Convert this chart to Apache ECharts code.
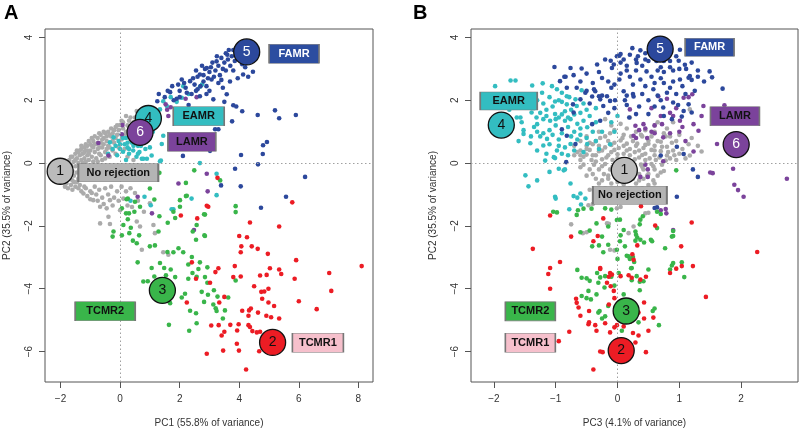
<!DOCTYPE html>
<html><head><meta charset="utf-8">
<script src="https://cdn.jsdelivr.net/npm/echarts@6/dist/echarts.min.js"></script>
<style>html,body{margin:0;padding:0;background:#fff}#c{width:800px;height:433px}</style>
</head><body><div id="c"></div>
<script>
// ---------- DATA (panel A: PC1 vs PC2) ----------
const noRejA = [[-1.85,-0.1],[-1.8,0.0],[-1.75,-0.2],[-1.7,0.1],[-1.65,-0.05],[-1.6,0.2],[-1.55,0.05],[-1.5,-0.1],[-1.5,0.3],[-1.45,0.15],[-1.4,0.0],[-1.4,0.35],[-1.35,0.25],[-1.3,0.1],[-1.3,0.45],[-1.25,0.3],[-1.2,0.5],[-1.2,0.15],[-1.15,0.4],[-1.1,0.55],[-1.1,0.25],[-1.05,0.1],[-1.0,0.6],[-1.0,0.4],[-0.95,0.2],[-0.9,0.7],[-0.9,0.5],[-0.85,0.35],[-0.8,0.6],[-0.8,0.15],[-0.75,0.8],[-0.75,0.45],[-0.7,0.3],[-0.65,0.9],[-0.65,0.65],[-0.6,0.5],[-0.6,0.1],[-0.55,0.8],[-0.5,0.95],[-0.5,0.35],[-0.45,0.7],[-0.4,0.55],[-0.4,1.0],[-0.35,0.2],[-0.3,0.85],[-0.3,1.1],[-0.25,0.4],[-0.2,0.65],[-0.2,1.05],[-0.15,0.3],[-0.1,0.9],[-0.1,1.2],[-0.05,0.5],[0.0,1.21],[0.05,0.75],[0.1,1.3],[0.15,0.45],[0.2,1.0],[0.25,0.2],[0.3,1.35],[0.35,0.7],[0.4,1.2],[0.56,1.66],[0.45,0.1],[0.5,1.45],
[-2.0,-0.45],[-1.95,-0.3],[-1.9,-0.55],[-1.85,-0.4],[-1.8,-0.65],[-1.75,-0.5],[-1.7,-0.35],[-1.65,-0.7],[-1.6,-0.55],[-1.55,-0.4],[-1.5,-0.75],[-1.45,-0.6],
[-1.4,-0.8],[-1.3,-0.9],[-1.23,-0.97],[-1.15,-0.8],[-1.1,-1.05],[-1.0,-0.9],[-0.9,-1.18],[-0.85,-0.75],[-0.8,-1.0],[-0.7,-0.85],[-0.67,-1.39],[-0.6,-1.1],[-0.5,-0.8],[-0.45,-1.44],[-0.4,-1.0],[-0.39,-1.71],[-0.34,-1.18],[-0.3,-0.75],[-0.2,-1.1],[-0.1,-0.9],[0.0,-1.5],[0.05,-0.75],[0.11,-1.13],[0.2,-0.9],[0.35,-0.8],[0.5,-0.95],[0.6,-1.2],[1.0,-1.28],[-0.67,-1.92],[-0.34,-1.94],[0.56,-1.86],[0.67,-2.02],[1.12,-1.97],[1.17,-2.23],[0.73,-2.76],[1.45,-2.84],[1.62,-2.92],[0.4,-1.4],[0.8,-1.55],
[-1.9,-0.2],[-1.85,-0.25],[-1.8,-0.35],[-1.75,-0.05],[-1.7,-0.5],[-1.65,0.2],[-1.6,-0.25],[-1.55,-0.6],[-1.5,0.1],[-1.45,-0.3],[-1.45,0.4],[-1.4,-0.5],[-1.35,0.4],[-1.35,-0.2],[-1.3,0.55],[-1.25,0.0],[-1.2,0.35],[-1.15,0.6],[-1.15,0.05],[-1.1,0.4],[-1.05,0.7],[-1.05,0.3],[-0.95,0.8],[-0.95,0.55],[-0.9,0.05],[-0.85,0.85],[-0.85,0.6],[-0.75,0.65],[-0.75,0.05],[-0.7,0.95],[-0.7,0.5],[-0.65,0.25],[-0.6,0.75],[-0.55,1.0],[-0.55,0.6],[-0.5,0.15],[-0.45,0.85],[-0.45,0.45],[-0.35,0.9],[-0.35,0.5],[-0.25,0.95],[-0.25,0.7],[-0.15,1.15],[-0.15,0.8],[-0.05,1.05],[0.05,1.35],[0.1,1.1],[0.15,0.9],[0.2,1.5],[0.25,1.2],[0.3,0.95],[0.35,1.45],[0.45,1.3],[-1.95,-0.6],[-1.85,-0.75],[-1.75,-0.8],[-1.6,-0.85],[-1.35,-0.7],[-1.2,-0.75],[-1.0,-1.15],[-0.95,-0.95],[-0.75,-1.2],[-0.55,-1.3],[-0.25,-1.35],[-0.05,-1.2],[0.25,-1.35]];
const eamrA = [[-0.34,0.66],[-0.22,0.82],[-0.15,0.55],[-0.05,0.7],[0.0,0.45],[0.05,0.9],[0.1,0.36],[0.15,0.6],[0.2,0.8],[0.25,0.5],[0.3,0.3],[0.35,0.95],[0.4,0.65],[0.44,0.4],[0.5,0.85],[0.55,0.2],[0.6,0.55],[0.65,0.35],[0.73,0.14],[0.9,0.14],[0.78,0.14],[1.06,0.24],[1.34,0.06],[1.37,0.08],[1.4,0.61],[1.45,0.87],[1.34,1.71],[1.45,1.97],[1.57,1.82],[1.3,1.5],[1.2,1.3],[2.07,2.08],[2.12,2.45],[2.68,2.43],[2.75,2.5],[2.3,2.2],[1.9,1.95],[1.7,2.1],[-0.1,0.25],[0.2,0.1],[2.68,0.0],[3.24,-0.34],[3.24,-1.02],[0.82,-1.07],[1.79,-1.47],[1.03,-1.34],[1.73,-1.47],[2.4,-1.13],[0.35,-1.2],[-0.4,0.3],[0.7,0.75],[1.0,0.5],[-0.25,0.45],[0.0,0.6],[0.1,0.8],[0.25,0.65],[0.45,0.55],[0.55,0.75],[0.7,0.55],[0.85,0.45],[0.3,0.45],[0.6,0.3],[1.1,1.0],[1.0,0.8]];
const lamrA = [[-0.73,0.64],[-0.39,0.24],[0.06,0.92],[0.08,1.21],[1.53,1.87],[1.62,1.5],[1.58,1.7],[1.7,1.78],[2.57,2.1],[2.91,-0.34],[1.96,-0.65],[2.94,-0.9],[0.59,-1.07],[1.07,-1.6],[2.48,-2.13],[0.4,0.75],[1.2,1.6],[2.2,2.05]];
const famrA = [[1.3,2.2],[1.25,1.97],[1.5,2.1],[1.68,2.26],[1.8,2.0],[1.9,2.05],[2.0,2.3],[2.07,2.66],[2.2,2.4],[2.24,2.24],[2.35,2.61],[2.4,2.2],[2.5,2.5],[2.6,2.75],[2.68,2.82],[2.7,2.45],[2.68,2.13],[2.8,2.6],[2.85,3.0],[2.91,3.03],[2.95,2.7],[3.0,2.9],[3.07,2.66],[3.1,3.2],[3.13,2.03],[3.2,2.95],[3.24,3.24],[3.3,3.1],[3.35,2.8],[3.4,3.35],[3.45,3.0],[3.5,3.2],[3.55,3.5],[3.58,2.19],[3.6,3.45],[3.62,3.3],[3.7,3.1],[3.69,2.6],[3.75,3.4],[3.8,3.6],[3.85,3.25],[3.91,3.61],[3.95,3.45],[4.0,3.3],[4.05,3.55],[4.1,3.15],[4.13,2.82],[4.46,2.91],[3.8,1.84],[3.9,1.8],[4.1,1.65],[3.76,1.33],[4.62,1.53],[5.2,1.68],[5.34,1.43],[5.9,1.53],[3.19,1.08],[3.3,1.08],[4.93,0.67],[4.8,0.57],[4.79,0.29],[4.06,0.26],[4.63,-0.04],[3.86,-0.18],[6.21,-0.44],[3.39,-0.71],[4.05,-0.74],[5.57,-1.07],[4.73,-1.42],[3.02,0.39],[2.11,0.23],[3.5,1.95],[3.0,2.3],[2.3,1.85],[2.9,2.45],[3.3,2.55],[2.55,2.3],[1.95,2.5],[3.45,2.4],[1.6,2.3],[1.75,2.45],[2.0,2.1],[2.15,2.55],[2.45,2.7],[2.55,2.95],[2.75,3.1],[2.8,2.8],[3.05,3.05],[3.15,2.75],[3.25,3.4],[3.4,2.65],[3.55,2.95],[3.65,3.6],[3.8,2.95],[4.2,3.05],[4.3,2.75],[3.95,2.7],[2.6,2.35],[2.9,2.2]];
const tcmr2A = [[0.26,-1.13],[1.15,-1.16],[0.67,-1.39],[0.48,-1.55],[0.06,-1.44],[0.2,-1.6],[0.26,-1.79],[0.11,-1.97],[0.36,-2.06],[-0.22,-2.18],[-0.25,-2.34],[0.06,-2.3],[0.31,-2.23],[0.64,-2.3],[0.43,-2.47],[0.56,-2.55],[1.0,-2.65],[1.17,-2.62],[1.32,-1.69],[1.29,-2.18],[1.85,-1.75],[1.79,-1.55],[2.01,-1.39],[2.21,-1.05],[2.82,-1.63],[2.57,-1.97],[2.44,-2.18],[2.83,-2.3],[2.55,-2.44],[1.59,-2.83],[1.79,-2.84],[1.96,-2.71],[2.12,-2.84],[2.41,-2.99],[0.59,-3.16],[1.34,-3.18],[1.06,-3.34],[1.48,-3.34],[1.7,-3.39],[2.29,-3.23],[2.68,-3.16],[2.63,-3.37],[2.43,-3.5],[2.29,-3.68],[2.57,-3.62],[2.85,-3.63],[1.54,-3.57],[1.85,-3.63],[1.15,-3.61],[0.78,-3.77],[0.93,-3.76],[2.74,-4.1],[2.18,-4.16],[2.07,-4.28],[2.82,-4.42],[1.68,-4.46],[2.35,-4.7],[2.55,-4.78],[2.57,-5.1],[1.64,-5.15],[2.32,-5.34],[3.88,-1.37],[3.88,-1.56],[2.85,-1.64],[2.85,-2.32],[2.93,-3.32],[2.93,-3.81],[3.15,-4.05],[2.95,-4.19],[3.27,-4.25],[3.63,-4.28],[3.13,-4.5],[3.21,-4.62],[3.24,-4.71],[3.52,-4.69],[3.45,-4.95],[3.88,-3.74],[1.32,-0.31],[2.49,-0.23],[2.21,-0.63],[1.0,-0.81],[2.01,-1.18],[2.24,-1.04],[3.36,-0.55],[0.22,-1.15],[0.5,-1.23],[0.3,-1.6],[1.6,-1.9],[1.75,-4.0]];
const tcmr1A = [[5.78,-1.25],[2.96,-1.39],[4.36,-1.89],[5.34,-2.02],[4.0,-2.32],[4.26,-2.36],[4.07,-2.65],[4.05,-2.84],[4.42,-2.65],[4.62,-2.73],[4.96,-2.89],[5.91,-3.09],[3.85,-3.28],[3.3,-3.35],[3.2,-3.47],[5.03,-3.35],[5.34,-3.39],[5.41,-3.53],[4.7,-3.58],[4.92,-3.56],[3.8,-3.63],[4.05,-3.61],[3.02,-3.81],[8.11,-3.28],[7.02,-3.5],[5.86,-3.68],[4.5,-3.92],[4.74,-4.1],[4.84,-4.09],[4.98,-4.0],[7.09,-4.07],[4.77,-4.32],[4.98,-4.44],[5.17,-4.55],[6.0,-4.4],[6.6,-4.65],[3.5,-4.26],[3.33,-4.44],[4.1,-4.7],[4.33,-4.69],[4.39,-4.63],[4.63,-4.76],[4.91,-4.86],[5.07,-4.91],[5.34,-4.95],[4.31,-4.86],[3.06,-5.17],[3.31,-5.16],[3.5,-5.37],[3.41,-5.49],[3.7,-5.15],[3.98,-5.13],[3.93,-5.33],[4.31,-5.16],[4.36,-5.22],[4.44,-5.35],[4.59,-5.39],[4.7,-5.37],[3.92,-5.75],[3.99,-5.97],[3.46,-5.97],[2.91,-6.07],[4.67,-5.99],[4.23,-6.57],[2.91,-1.36],[2.04,-1.67],[2.59,-1.76],[2.41,-3.16],[2.55,-3.68],[2.24,-4.44],[3.27,-0.47]];

// ---------- DATA (panel B: PC3 vs PC2) ----------
const noRejB = [[-0.1,1.2],[0.05,1.25],[0.6,1.2],[-0.3,1.0],[-0.05,1.05],[0.3,1.0],[0.6,1.0],[0.75,0.95],[-0.5,0.85],[-0.2,0.85],[0.1,0.9],[0.4,0.85],[0.85,0.85],[-0.6,0.7],[-0.35,0.7],[-0.15,0.7],[0.05,0.72],[0.25,0.7],[0.5,0.72],[0.7,0.68],[0.95,0.7],[-0.7,0.55],[-0.5,0.55],[-0.3,0.55],[-0.1,0.58],[0.1,0.55],[0.3,0.55],[0.45,0.58],[0.6,0.55],[0.8,0.52],[1.15,0.6],[-0.6,0.4],[-0.45,0.42],[-0.25,0.4],[-0.05,0.42],[0.15,0.4],[0.35,0.4],[0.55,0.42],[0.7,0.38],[0.9,0.4],[1.17,0.24],[1.36,0.37],[-0.7,0.25],[-0.5,0.27],[-0.35,0.25],[-0.15,0.25],[0.0,0.28],[0.2,0.25],[0.4,0.26],[0.6,0.25],[0.8,0.24],[1.0,0.3],[-0.6,0.1],[-0.42,0.1],[-0.25,0.12],[-0.08,0.1],[0.1,0.1],[0.28,0.12],[0.45,0.1],[0.62,0.1],[0.78,0.08],[0.95,0.1],[-0.55,-0.05],[-0.38,-0.05],[-0.2,-0.03],[0.0,-0.05],[0.2,-0.05],[0.38,-0.05],[0.55,-0.03],[0.72,-0.05],[-0.6,-0.13],[-0.45,-0.2],[-0.3,-0.2],[-0.12,-0.2],[0.05,-0.22],[0.25,-0.2],[0.42,-0.2],[0.6,-0.2],[0.75,-0.25],[-0.4,-0.35],[-0.22,-0.35],[-0.05,-0.35],[0.15,-0.38],[0.35,-0.35],[0.5,-0.35],[0.65,-0.4],[-0.35,-0.5],[-0.15,-0.5],[0.05,-0.52],[0.25,-0.5],[0.42,-0.5],[0.58,-0.55],[-0.3,-0.65],[-0.1,-0.65],[0.1,-0.68],[0.3,-0.65],[0.5,-0.7],[-0.47,-1.34],[-0.4,-1.3],[-0.01,-1.44],[0.05,-1.4],[0.45,-1.6],[0.5,-1.58],[-0.75,-1.95],[-0.56,-2.23],[-0.5,-2.2],[-0.17,-1.92],[-0.14,-1.93],[0.18,-2.23],[0.26,-2.02],[-0.12,-2.76],[-0.05,-2.78],[-0.2,-1.0],[-0.35,-0.9],[0.0,-0.9],[0.25,-1.2],[-0.45,-0.85],[1.17,1.71],[0.9,1.3],[0.8,1.1],[1.0,0.9],[0.2,1.45],[-0.2,1.4],
[-0.65,0.35],[-0.55,0.2],[-0.5,0.45],[-0.45,0.65],[-0.4,0.25],[-0.35,0.05],[-0.3,0.38],[-0.28,0.8],[-0.25,-0.1],[-0.2,0.5],[-0.18,0.18],[-0.12,0.95],[-0.1,0.35],[-0.08,-0.12],[-0.05,0.65],[0.0,0.15],[0.02,0.48],[0.05,-0.3],[0.08,0.8],[0.1,0.3],[0.12,0.02],[0.15,0.62],[0.18,-0.15],[0.2,0.45],[0.22,0.85],[0.25,0.05],[0.28,0.35],[0.3,-0.3],[0.32,0.62],[0.35,0.18],[0.38,0.9],[0.4,-0.12],[0.42,0.48],[0.45,0.3],[0.48,-0.4],[0.5,0.62],[0.52,0.15],[0.55,0.85],[0.58,-0.1],[0.6,0.4],[0.65,0.7],[0.68,0.18],[0.7,-0.3],[0.72,0.52],[0.78,0.85],[0.82,0.35],[0.85,0.15],[0.88,0.65],[0.92,0.25],[1.05,0.45],[1.1,0.15],[1.2,0.8],[-0.4,0.6],[-0.6,0.25],[-0.15,-0.4],[0.1,-0.45],[0.35,-0.55],[-0.25,-0.55],[0.0,-0.6],[0.2,-0.8],[0.4,-0.8],[-0.2,-0.8],[0.6,-0.65],[-0.5,-0.4],[0.15,1.1],[0.45,1.05],[0.65,1.3],[1.3,0.55]];
const eamrB = [[-1.98,2.45],[-1.73,2.63],[-1.65,2.63],[-1.38,2.47],[-1.21,2.54],[-1.06,2.45],[-0.98,2.35],[-0.9,2.24],[-1.22,2.24],[-1.46,1.82],[-1.39,1.61],[-1.31,1.45],[-1.63,1.45],[-1.52,1.05],[-1.41,0.63],[-1.55,1.3],[-1.3,1.24],[-1.2,1.4],[-1.09,1.35],[-1.01,1.56],[-0.95,1.45],[-0.85,1.35],[-0.76,1.4],[-0.65,1.25],[-0.55,1.35],[-0.8,1.15],[-0.7,1.0],[-0.6,0.9],[-0.49,1.14],[-0.4,1.0],[-0.49,0.61],[-0.35,0.7],[-0.76,0.61],[-0.85,0.5],[-0.98,0.4],[-1.03,0.19],[-0.9,0.3],[-0.8,0.25],[-1.14,0.77],[-1.2,0.95],[-1.2,0.56],[-1.25,0.85],[-1.1,1.05],[-0.95,0.75],[-1.0,1.2],[-1.15,1.7],[-1.1,-0.28],[-0.95,-0.18],[-0.85,-0.2],[-1.3,-0.55],[-1.44,-0.74],[-1.49,-0.39],[-1.01,-1.07],[-0.71,-1.05],[-0.65,-1.1],[-0.76,-0.65],[-0.52,-1.13],[-0.82,1.87],[-0.9,1.95],[-0.85,1.65],[-0.75,1.7],[-0.66,1.82],[-0.55,1.9],[-0.5,1.7],[-0.35,1.75],[-0.82,2.13],[-1.01,1.96],[-0.58,2.32],[-0.68,2.03],[-0.78,2.1],[-1.17,0.08],[-1.01,0.16],[-0.87,-0.23],[-0.12,0.6],[-0.05,1.0],[0.0,1.5],[-0.1,1.3],[-0.6,-0.97],[-1.0,-1.13],[-0.78,-1.47],[-0.59,-1.32],[-1.57,1.45],[-1.52,0.93],[-1.35,1.15],[-0.3,0.45],[-0.55,0.35],[-1.75,1.7],[-1.6,1.85],[-1.45,2.1],[-1.3,2.0],[-1.2,1.9],[-1.1,2.1],[-1.05,1.8],[-0.95,2.0],[-1.35,1.75],[-1.25,1.6],[-1.15,1.5],[-1.0,1.4],[-0.9,1.55],[-0.7,1.55],[-0.6,1.6],[-0.45,1.5],[-1.3,1.0],[-1.4,0.85],[-1.05,0.9],[-0.9,0.95],[-0.75,0.85],[-0.65,0.75],[-0.5,0.8],[-1.1,0.6],[-0.95,0.55],[-0.7,0.4],[-1.3,0.4],[-1.15,0.3],[-1.6,0.7],[-1.75,1.0],[-0.35,1.3],[-0.25,1.0],[-0.6,1.1],[-0.8,1.45]];
const lamrB = [[1.07,2.08],[1.15,2.1],[1.39,1.82],[1.73,1.84],[1.36,1.5],[1.23,1.24],[1.31,1.03],[1.01,1.35],[0.9,1.5],[0.85,1.6],[0.7,1.5],[0.6,1.2],[0.72,1.24],[0.55,1.0],[0.45,1.1],[0.42,1.24],[0.35,1.05],[0.29,1.19],[0.48,0.8],[0.6,0.95],[0.74,0.82],[0.85,0.95],[1.05,1.15],[1.61,0.61],[1.23,0.37],[1.87,-0.18],[1.54,-0.32],[1.5,-0.3],[1.89,-0.69],[1.95,-0.86],[2.04,-1.07],[2.74,-0.5],[0.37,-0.44],[0.26,0.87],[0.3,0.8],[0.74,0.06],[0.49,-0.44],[0.49,-0.2],[0.45,-0.05],[0.2,1.71],[0.66,2.13],[0.8,2.05],[1.21,2.19],[0.78,-1.46],[0.7,-1.5],[0.79,-1.6],[0.9,-2.13],[1.0,1.0],[1.1,0.7],[0.95,1.75],[0.55,1.75]];
const famrB = [[-1.02,3.06],[-0.76,3.03],[-0.58,3.01],[-0.33,3.14],[-0.84,2.75],[-0.71,2.8],[-0.01,3.4],[0.03,3.42],[-0.09,3.03],[0.05,3.2],[0.15,3.1],[-0.25,2.71],[-0.82,2.4],[-0.66,2.4],[-0.52,2.24],[-0.36,2.29],[-0.3,2.13],[-0.25,2.15],[-0.12,1.98],[-0.1,2.4],[0.1,2.29],[0.12,2.0],[0.25,2.2],[-0.23,1.82],[-0.05,1.75],[-0.45,1.9],[-0.28,1.35],[-0.41,1.24],[-0.71,1.61],[-0.9,1.08],[-0.68,0.61],[-0.72,1.87],[-0.86,2.75],[-0.11,3.26],[0.05,3.47],[0.24,3.66],[0.33,3.4],[0.37,3.59],[0.2,3.45],[0.45,3.3],[0.5,3.25],[0.63,3.25],[0.75,3.25],[0.85,3.25],[1.01,3.61],[0.99,3.26],[1.11,3.0],[1.3,2.95],[1.49,2.92],[1.53,2.73],[1.7,2.37],[1.17,2.77],[1.2,2.65],[1.01,2.66],[0.9,2.6],[0.75,2.55],[0.58,2.35],[0.8,2.24],[0.65,2.15],[0.5,2.0],[0.26,2.12],[0.15,2.15],[-0.04,2.0],[-0.17,2.13],[-0.41,2.12],[-0.38,2.35],[-0.5,2.3],[-0.6,2.03],[-0.05,2.5],[0.03,2.66],[0.2,2.75],[0.37,2.66],[0.47,2.92],[0.65,2.95],[0.75,2.9],[0.9,2.95],[0.3,2.95],[0.31,3.19],[0.15,2.95],[-0.06,3.14],[0.74,1.77],[0.9,1.93],[0.98,1.85],[1.07,1.66],[1.04,1.48],[0.88,1.4],[0.75,1.5],[0.5,1.56],[0.3,1.56],[0.19,1.45],[0.35,1.8],[0.96,0.52],[1.07,0.29],[0.7,0.24],[1.22,-0.2],[1.3,-0.44],[0.96,-1.07],[0.64,-1.41],[0.6,-1.43],[-0.82,0.87],[-0.83,0.03],[-0.28,2.03],[-0.93,2.61],[1.15,2.72],[1.2,1.61],[1.15,1.87],[1.09,3.13],[0.55,3.6],[0.6,3.5],[0.4,3.1],[0.55,2.75],[0.85,3.05],[1.0,3.0],[0.7,2.7],[1.3,2.75],[0.95,2.2],[1.1,2.2],[0.45,2.45],[-0.2,3.3],[0.1,3.3],[0.3,3.3],[0.45,3.5],[0.7,3.05],[0.95,3.4],[1.2,3.2],[0.25,2.5],[0.6,2.55],[0.85,2.4],[1.05,2.45],[-0.15,2.6],[-0.4,2.55],[-0.6,2.6],[-0.3,2.9],[-0.5,2.85],[0.05,2.85],[0.4,2.2],[0.7,2.0],[1.25,2.3],[1.4,2.6],[0.15,1.85],[-0.15,1.6],[0.6,1.8]];
const tcmr2B = [[-1.04,-1.55],[-0.98,-1.57],[-0.66,-1.65],[-0.64,-1.5],[-0.55,-1.45],[-0.42,-1.45],[-0.2,-1.44],[-0.1,-1.48],[-0.34,-1.92],[-0.15,-2.02],[-0.01,-1.81],[0.04,-1.8],[0.1,-2.13],[-0.25,-2.34],[-0.41,-2.65],[-0.3,-2.62],[-0.23,-2.84],[-0.01,-2.76],[0.04,-2.49],[0.15,-2.95],[0.23,-3.34],[-0.33,-3.5],[-0.58,-3.65],[-0.5,-3.67],[-0.45,-3.75],[-0.28,-3.64],[-0.2,-3.6],[-0.1,-3.62],[0.02,-3.5],[-0.47,-4.07],[-0.5,-4.3],[-0.31,-4.76],[-0.25,-4.95],[-0.2,-4.88],[-0.15,-4.55],[0.1,-4.18],[0.07,-5.34],[0.41,-1.69],[0.37,-1.8],[0.36,-1.95],[0.64,-1.55],[0.7,-1.62],[0.64,-2.07],[0.29,-2.18],[0.3,-2.28],[0.32,-2.37],[0.29,-2.47],[0.43,-2.53],[0.54,-2.44],[0.9,-2.32],[0.77,-2.71],[0.25,-2.99],[0.27,-3.15],[0.88,-3.26],[1.04,-3.16],[1.08,-3.63],[0.5,-3.39],[0.42,-3.76],[0.36,-3.78],[0.23,-3.73],[0.36,-4.05],[0.57,-4.71],[0.6,-4.63],[0.34,-5.07],[0.67,-5.16],[0.95,-0.23],[-0.29,-4.71],[-0.43,-4.34],[-0.58,-4.23],[-0.34,-4.18],[-0.31,-3.81],[-0.21,-3.96],[-0.05,-3.9],[0.22,-3.35],[0.31,-3.6],[0.18,-2.97],[0.2,-3.05],[0.9,-2.16],[0.88,-2.34],[0.56,-2.49],[0.37,-2.44],[0.85,-3.39],[0.9,-3.18],[-0.6,-2.2],[-0.45,-2.15],[-0.15,-2.6],[0.12,-2.65],[0.0,-3.05],[0.05,-2.3],[-0.65,-3.4]];
const tcmr1B = [[-1.09,-1.67],[-0.75,-2.34],[-1.37,-2.73],[-0.93,-3.15],[-1.09,-3.34],[-1.12,-3.53],[-1.09,-4.0],[-0.67,-4.32],[-0.63,-4.6],[-0.6,-4.86],[-0.46,-4.71],[-0.32,-2.32],[-0.23,-1.76],[-0.28,-3.37],[-0.17,-3.81],[-0.09,-3.55],[-0.06,-4.07],[-0.47,-5.13],[-0.36,-5.16],[-0.34,-5.34],[-0.12,-5.39],[-0.05,-5.23],[-0.01,-5.16],[-0.78,-5.37],[-0.95,-5.67],[-0.28,-6.0],[-0.24,-6.02],[-0.39,-6.57],[0.24,-2.9],[-0.66,-4.45],[-0.46,-5.07],[0.29,-5.71],[0.34,-5.49],[0.46,-6.02],[0.5,-5.34],[0.43,-4.44],[0.58,-4.92],[-0.14,-4.5],[-0.11,-3.92],[-0.14,-3.62],[0.18,-3.57],[0.23,-3.65],[0.37,-3.71],[0.46,-3.62],[-0.28,-3.34],[0.26,-3.08],[-0.39,-2.49],[0.61,-1.99],[1.03,-2.65],[1.2,-1.89],[2.26,-2.83],[1.43,-4.26],[1.04,-3.28],[1.22,-3.28],[0.85,-3.5],[0.95,-3.36],[0.38,-1.37],[0.32,-2.62],[0.34,-4.76],[0.43,-4.95],[0.25,-5.41],[-0.12,-3.5],[0.05,-3.6],[-0.05,-4.3],[0.1,-5.2],[-0.2,-5.1],[0.2,-5.05]];

// group centroids (circles 1..6) and label anchors, order: 1 No rejection, 2 TCMR1, 3 TCMR2, 4 EAMR, 5 FAMR, 6 LAMR
const groupNames = ['No rejection','TCMR1','TCMR2','EAMR','FAMR','LAMR'];
const centroidA = [[-2.01,-0.26],[5.12,-5.71],[1.42,-4.05],[0.95,1.42],[4.25,3.54],[0.67,0.98]];
const centroidB = [[0.11,-0.23],[0.06,-5.97],[0.14,-4.71],[-1.88,1.21],[0.69,3.63],[1.92,0.59]];
const labelPosA = [[-0.06,-0.31],[6.64,-5.72],[-0.5,-4.72],[2.64,1.49],[5.84,3.48],[2.41,0.68]];
const labelPosB = [[0.2,-1.02],[-1.41,-5.72],[-1.41,-4.72],[-1.76,1.98],[1.49,3.69],[1.9,1.49]];
const xTicksA = [-2,0,2,4,6,8];
const xTicksB = [-2,-1,0,1,2];
const yTicks = [-6,-4,-2,0,2,4];

// ---------- STYLE ----------
const FONT = '"Liberation Sans", Arial, Helvetica, sans-serif';
const pointColor = ['#ABABAB','#EC1C24','#39B54A','#33BDC1','#2C489C','#7B439B'];
const circleFill = ['#BBBBBB','#EC1C24','#39B54A','#33BDC1','#2C489C','#7B439B'];
const circleText = ['#111','#111','#111','#111','#fff','#fff'];
const boxFill = ['#B4B4B4','#F6C0CC','#39B54A','#33BDC1','#2C4DA0','#7B439B'];
const boxText = ['#111','#111','#111','#111','#fff','#111'];
const boxSizeA = [[80,18],[51,19],[60,19],[51,19],[50,19],[48,19]];
const boxSizeB = [[74,18],[50,19],[50,19],[57,18],[49,18],[49,19]];
const drawOrder = [0,3,5,4,2,1];

const fmt = v => String(v).replace('-', '\u2212');

function xAxis(gi, min, max, ticks, name) {
  return { gridIndex: gi, type: 'value', min, max, splitLine: {show:false},
    axisLine: {show:false, onZero:false},
    axisTick: {show:true, customValues: ticks, length: 6, lineStyle:{color:'#555', width:1}},
    axisLabel: {customValues: ticks, formatter: fmt, color:'#333', fontSize:10, fontFamily:FONT, margin:12},
    name, nameLocation:'middle', nameGap:36, nameTextStyle:{fontSize:10, color:'#333', fontFamily:FONT} };
}
function yAxis(gi) {
  return { gridIndex: gi, type: 'value', min:-6.97, max:4.27, splitLine:{show:false},
    axisLine: {show:false, onZero:false},
    axisTick: {show:true, customValues: yTicks, length: 6, lineStyle:{color:'#555', width:1}},
    axisLabel: {customValues: yTicks, formatter: fmt, rotate: 90, color:'#333', fontSize:10, fontFamily:FONT, margin:11},
    name:'PC2 (35.5% of variance)', nameLocation:'middle', nameGap:33, nameTextStyle:{fontSize:10, color:'#333', fontFamily:FONT} };
}

function panelSeries(gi, groups, centroids, labelPos, boxSize) {
  const out = [];
  out.push({ type:'scatter', xAxisIndex:gi, yAxisIndex:gi, data:[], silent:true, z:1,
    markLine:{ silent:true, symbol:'none', label:{show:false},
      lineStyle:{type:[1.5,2.5], color:'#a0a0a0', width:1, opacity:1},
      data:[{xAxis:0},{yAxis:0}] } });
  drawOrder.forEach(g => {
    out.push({ type:'scatter', xAxisIndex:gi, yAxisIndex:gi, data: groups[g], symbolSize:4.6,
      itemStyle:{color: pointColor[g], opacity:1}, silent:true, z:2, animation:false });
  });
  out.push({ type:'scatter', xAxisIndex:gi, yAxisIndex:gi, silent:true, z:5, animation:false,
    symbolSize: 26,
    data: centroids.map((p,i)=>({ value:p, itemStyle:{color:circleFill[i], borderColor:'#111', borderWidth:1.3, opacity:1},
      label:{show:true, position:'inside', formatter:String(i+1), color:circleText[i], fontSize:14, fontFamily:FONT} })) });
  out.push({ type:'scatter', xAxisIndex:gi, yAxisIndex:gi, silent:true, z:6, animation:false,
    symbol:'rect',
    data: labelPos.map((p,i)=>({ value:p, symbolSize: boxSize[i],
      itemStyle:{color:boxFill[i], borderColor:'#777', borderWidth:1, opacity:1},
      label:{show:true, position:'inside', formatter:groupNames[i], color:boxText[i], fontSize:11, fontWeight:'bold', fontFamily:FONT} })) });
  return out;
}

const chart = echarts.init(document.getElementById('c'), null, {renderer:'canvas'});
chart.setOption({
  animation:false,
  backgroundColor:'#fff',
  grid:[
    {left:45, top:29, width:328, height:356, show:true, borderColor:'#555', borderWidth:1, backgroundColor:'transparent'},
    {left:471, top:29, width:327, height:356, show:true, borderColor:'#555', borderWidth:1, backgroundColor:'transparent'}
  ],
  xAxis:[ xAxis(0, -2.52, 8.49, xTicksA, 'PC1 (55.8% of variance)'), xAxis(1, -2.37, 2.92, xTicksB, 'PC3 (4.1% of variance)') ],
  yAxis:[ yAxis(0), yAxis(1) ],
  graphic:[
    {type:'text', left:4, top:3, style:{text:'A', font:'bold 20px '+FONT, fill:'#000'}},
    {type:'text', left:413, top:3, style:{text:'B', font:'bold 20px '+FONT, fill:'#000'}}
  ],
  series:[
    ...panelSeries(0, [noRejA,tcmr1A,tcmr2A,eamrA,famrA,lamrA], centroidA, labelPosA, boxSizeA),
    ...panelSeries(1, [noRejB,tcmr1B,tcmr2B,eamrB,famrB,lamrB], centroidB, labelPosB, boxSizeB)
  ]
});
</script></body></html>
